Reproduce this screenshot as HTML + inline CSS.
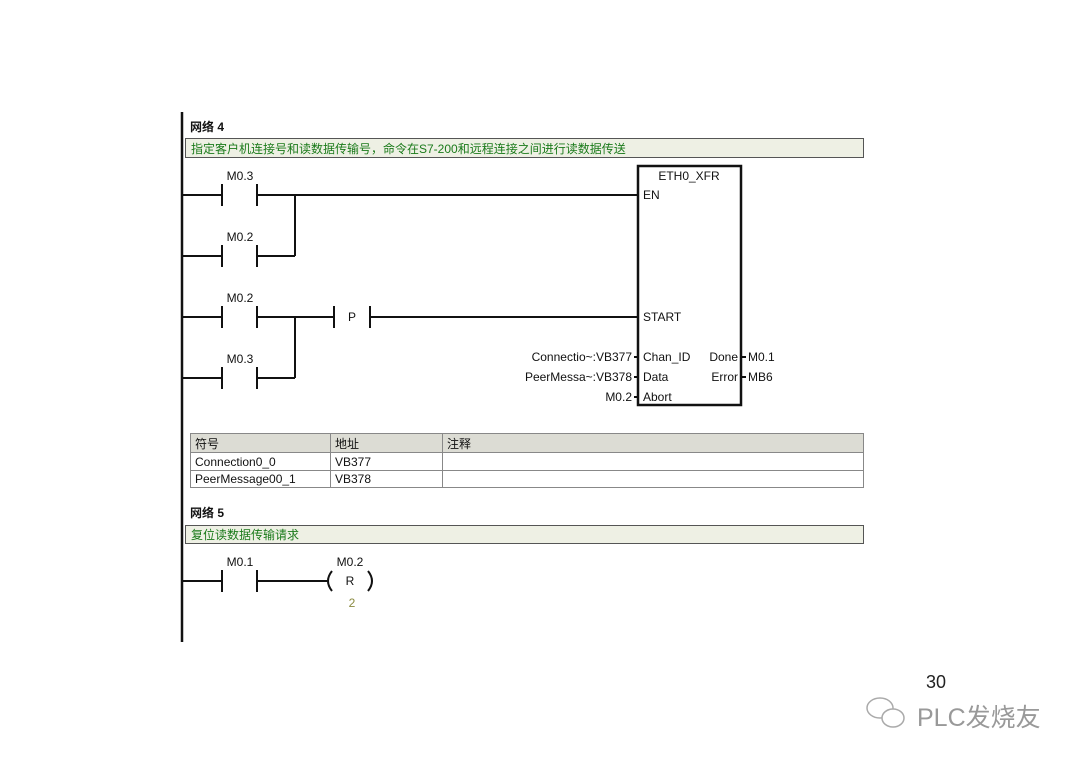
<!DOCTYPE html>
<html><head><meta charset="utf-8"><style>
html,body{margin:0;padding:0;background:#fff;}
svg text{font-family:"Liberation Sans","Noto Sans CJK SC",sans-serif;}
</style></head><body>
<svg width="1080" height="764" viewBox="0 0 1080 764" xmlns="http://www.w3.org/2000/svg">
<rect width="1080" height="764" fill="#fff"/>
<!-- left rail -->
<line x1="182" y1="112" x2="182" y2="642" stroke="#111" stroke-width="2.5"/>
<text x="190" y="131" font-size="12" font-weight="bold" fill="#111">网络 4</text>
<rect x="185.5" y="138.5" width="678" height="19" fill="#eef0e4" stroke="#555"/>
<text x="191" y="153" font-size="12" fill="#1a7a1a">指定客户机连接号和读数据传输号，命令在S7-200和远程连接之间进行读数据传送</text>
<g stroke="#111" stroke-width="2" fill="none">
<!-- rung 1 -->
<line x1="182" y1="195" x2="222" y2="195"/><line x1="222" y1="184" x2="222" y2="206"/>
<line x1="257" y1="184" x2="257" y2="206"/><line x1="257" y1="195" x2="638" y2="195"/>
<!-- rung 2 -->
<line x1="182" y1="256" x2="222" y2="256"/><line x1="222" y1="245" x2="222" y2="267"/>
<line x1="257" y1="245" x2="257" y2="267"/><line x1="257" y1="256" x2="295" y2="256"/>
<line x1="295" y1="195" x2="295" y2="256"/>
<!-- rung 3 -->
<line x1="182" y1="317" x2="222" y2="317"/><line x1="222" y1="306" x2="222" y2="328"/>
<line x1="257" y1="306" x2="257" y2="328"/><line x1="257" y1="317" x2="334" y2="317"/>
<line x1="334" y1="306" x2="334" y2="328"/><line x1="370" y1="306" x2="370" y2="328"/>
<line x1="370" y1="317" x2="638" y2="317"/>
<!-- rung 4 -->
<line x1="182" y1="378" x2="222" y2="378"/><line x1="222" y1="367" x2="222" y2="389"/>
<line x1="257" y1="367" x2="257" y2="389"/><line x1="257" y1="378" x2="295" y2="378"/>
<line x1="295" y1="317" x2="295" y2="378"/>
<!-- box -->
<rect x="638" y="166" width="103" height="239" stroke-width="2.5"/>
<line x1="634" y1="357" x2="638" y2="357"/><line x1="634" y1="377" x2="638" y2="377"/><line x1="634" y1="397" x2="638" y2="397"/>
<line x1="741" y1="357" x2="746" y2="357"/><line x1="741" y1="377" x2="746" y2="377"/>
</g>
<g font-size="12" fill="#111">
<text x="240" y="180" text-anchor="middle">M0.3</text>
<text x="240" y="241" text-anchor="middle">M0.2</text>
<text x="240" y="302" text-anchor="middle">M0.2</text>
<text x="240" y="363" text-anchor="middle">M0.3</text>
<text x="352" y="321" text-anchor="middle">P</text>
<text x="689" y="180" text-anchor="middle">ETH0_XFR</text>
<text x="643" y="199">EN</text>
<text x="643" y="321">START</text>
<text x="643" y="361">Chan_ID</text>
<text x="643" y="381">Data</text>
<text x="643" y="401">Abort</text>
<text x="738" y="361" text-anchor="end">Done</text>
<text x="738" y="381" text-anchor="end">Error</text>
<text x="748" y="361">M0.1</text>
<text x="748" y="381">MB6</text>
<text x="632" y="361" text-anchor="end">Connectio~:VB377</text>
<text x="632" y="381" text-anchor="end">PeerMessa~:VB378</text>
<text x="632" y="401" text-anchor="end">M0.2</text>
</g>
<!-- table -->
<g stroke="#888" fill="none">
<rect x="190.5" y="433.5" width="673" height="54" fill="#fff"/>
<rect x="190.5" y="433.5" width="673" height="19" fill="#dcdcd4"/>
<line x1="190" y1="470.5" x2="864" y2="470.5"/>
<line x1="330.5" y1="433" x2="330.5" y2="488"/>
<line x1="442.5" y1="433" x2="442.5" y2="488"/>
</g>
<g font-size="12" fill="#111">
<text x="195" y="448">符号</text><text x="335" y="448">地址</text><text x="447" y="448">注释</text>
<text x="195" y="466">Connection0_0</text><text x="335" y="466">VB377</text>
<text x="195" y="483">PeerMessage00_1</text><text x="335" y="483">VB378</text>
</g>
<text x="190" y="517" font-size="12" font-weight="bold" fill="#111">网络 5</text>
<rect x="185.5" y="525.5" width="678" height="18" fill="#eef0e4" stroke="#555"/>
<text x="191" y="539" font-size="12" fill="#1a7a1a">复位读数据传输请求</text>
<g stroke="#111" stroke-width="2" fill="none">
<line x1="182" y1="581" x2="222" y2="581"/><line x1="222" y1="570" x2="222" y2="592"/>
<line x1="257" y1="570" x2="257" y2="592"/><line x1="257" y1="581" x2="327" y2="581"/>
<path d="M332 571 Q324 581 332 591"/><path d="M368 571 Q376 581 368 591"/>
</g>
<g font-size="12" fill="#111">
<text x="240" y="566" text-anchor="middle">M0.1</text>
<text x="350" y="566" text-anchor="middle">M0.2</text>
<text x="350" y="585" text-anchor="middle">R</text>
<text x="352" y="607" text-anchor="middle" fill="#8a8a40">2</text>
</g>
<text x="936" y="688" font-size="18" text-anchor="middle" fill="#222">30</text>
<g stroke="#aaa" fill="none" stroke-width="1.5">
<ellipse cx="880" cy="708" rx="13" ry="10"/>
<ellipse cx="893" cy="718" rx="11" ry="9" fill="#fff"/>
</g>
<text x="917" y="726" font-size="25" fill="#999">PLC发烧友</text>
</svg>
</body></html>
